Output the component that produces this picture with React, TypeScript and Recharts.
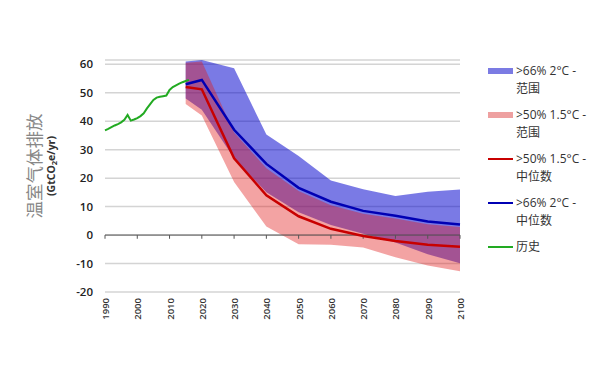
import * as React from "react";
import {
  ComposedChart,
  XAxis,
  YAxis,
  CartesianGrid,
  Area,
  Line,
  ReferenceLine,
} from "recharts";

const histYears = [
  1990, 1991, 1992, 1993, 1994, 1995, 1996, 1997, 1998, 1999, 2000, 2001, 2002,
  2003, 2004, 2005, 2006, 2007, 2008, 2009, 2010, 2011, 2012, 2013, 2014, 2015,
  2016,
];
const histValues = [
  36.8, 37.3, 37.9, 38.5, 39.0, 39.6, 40.5, 42.2, 40.2, 40.6, 41.1, 41.8, 42.8,
  44.5, 46.0, 47.5, 48.3, 48.6, 48.8, 49.0, 51.0, 52.0, 52.6, 53.2, 53.7, 54.1,
  54.5,
];

const projYears = [2015, 2020, 2030, 2040, 2050, 2060, 2070, 2080, 2090, 2100];
const deg2Median = [53, 54.5, 37, 25, 16.6, 11.7, 8.5, 6.8, 4.8, 3.7];
const deg2High = [61, 61.5, 58.6, 35.3, 27.8, 19.2, 16.1, 13.7, 15.2, 16.0];
const deg2Low = [48, 44, 27, 15, 8, 3.5, 0.5, -2.6, -6.7, -9.9];
const deg15Median = [52, 51.2, 27, 14, 6.6, 2.2, -0.3, -2.1, -3.4, -4.1];
const deg15High = [60.5, 61, 36, 23.5, 15.5, 10.5, 7.5, 5.8, 3.8, 2.8];
const deg15Low = [46, 42, 18.6, 3, -3.2, -3.4, -4.4, -7.8, -10.7, -12.7];

const xTicks = [
  1990, 2000, 2010, 2020, 2030, 2040, 2050, 2060, 2070, 2080, 2090, 2100,
];
const yTicks = [-20, -10, 0, 10, 20, 30, 40, 50, 60];

const legendItems = [
  { line1: ">66% 2°C -", line2: "范围", kind: "rect", color: "#7b7be3" },
  { line1: ">50% 1.5°C -", line2: "范围", kind: "rect", color: "#eea0a0" },
  { line1: ">50% 1.5°C -", line2: "中位数", kind: "line", color: "#c80000" },
  { line1: ">66% 2°C -", line2: "中位数", kind: "line", color: "#0000b4" },
  { line1: "历史", line2: "", kind: "line", color: "#22aa22" },
];

const histData = histYears.map((year, i) => ({ year, value: histValues[i] }));
const projData = projYears.map((year, i) => ({
  year,
  deg2Median: deg2Median[i],
  deg2Range: [deg2Low[i], deg2High[i]],
  deg15Median: deg15Median[i],
  deg15Range: [deg15Low[i], deg15High[i]],
}));

const FONT = "'Open Sans', 'Noto Sans CJK SC', sans-serif";

const XTick = (props: any) => {
  const { x, y, payload } = props;
  const tx = x + 4;
  const ty = y + 6;
  return (
    <text
      x={tx}
      y={ty}
      transform={`rotate(-90 ${tx} ${ty})`}
      textAnchor="end"
      fontSize={9.5}
      fontWeight={600}
      fill="#333"
      fontFamily={FONT}
    >
      {payload.value}
    </text>
  );
};

const YLabel = () => (
  <g>
    <text
      x={41}
      y={166}
      transform="rotate(-90 41 166)"
      textAnchor="middle"
      fontSize={17.5}
      fill="#888"
      fontFamily={FONT}
    >
      温室气体排放
    </text>
    <text
      x={55}
      y={166}
      transform="rotate(-90 55 166)"
      textAnchor="middle"
      fontSize={10.5}
      fontWeight="bold"
      fill="#333"
      fontFamily={FONT}
    >
      (GtCO
      <tspan fontSize={7.5} dy={2}>
        2
      </tspan>
      <tspan dy={-2}>e/yr)</tspan>
    </text>
  </g>
);

const ChartLegend = () => (
  <div
    style={{
      position: "absolute",
      left: 488,
      top: 62,
      width: 112,
      fontFamily: FONT,
      fontSize: 12,
      color: "#333",
      lineHeight: "18px",
    }}
  >
    {legendItems.map((item, i) => (
      <div key={i} style={{ display: "flex", marginBottom: 8 }}>
        <div
          style={{
            width: 25,
            height: 18,
            position: "relative",
            flexShrink: 0,
            marginRight: 3,
          }}
        >
          <div
            style={{
              position: "absolute",
              left: 0,
              width: 25,
              top: item.kind === "rect" ? 6 : 8,
              height: item.kind === "rect" ? 6 : 2,
              background: item.color,
            }}
          />
        </div>
        <div>
          <div>{item.line1}</div>
          {item.line2 && <div>{item.line2}</div>}
        </div>
      </div>
    ))}
  </div>
);

export default function App() {
  return (
    <div
      style={{
        position: "absolute",
        left: 0,
        top: 0,
        width: 600,
        height: 373,
        background: "#fff",
      }}
    >
      <ComposedChart
        width={600}
        height={373}
        margin={{ top: 60, right: 140, bottom: 41, left: 0 }}
      >
        <CartesianGrid vertical={false} stroke="#d4d4d4" strokeWidth={1.5} />
        <XAxis
          dataKey="year"
          type="number"
          domain={[1990, 2100]}
          ticks={xTicks}
          interval={0}
          axisLine={false}
          tickLine={false}
          tickSize={0}
          tickMargin={0}
          height={40}
          tick={<XTick />}
          allowDuplicatedCategory={false}
        />
        <YAxis
          type="number"
          domain={[-20, 60]}
          ticks={yTicks}
          interval={0}
          axisLine={false}
          tickLine={false}
          tickSize={0}
          tickMargin={12}
          width={105}
          tick={{ fontSize: 11.5, fill: "#222", fontWeight: 600, fontFamily: FONT }}
          label={<YLabel />}
        />
        <Area
          data={projData}
          dataKey="deg2Range"
          type="linear"
          fill="#0000cd"
          fillOpacity={0.52}
          stroke="none"
          isAnimationActive={false}
        />
        <Area
          data={projData}
          dataKey="deg15Range"
          type="linear"
          fill="#e01818"
          fillOpacity={0.4}
          stroke="none"
          isAnimationActive={false}
        />
        <ReferenceLine y={0} stroke="#555" strokeWidth={1} />
        {xTicks.map((t) => (
          <ReferenceLine
            key={t}
            segment={[
              { x: t, y: 0 },
              { x: t, y: -1.3 },
            ]}
            stroke="#555"
            strokeWidth={1}
          />
        ))}
        <Line
          data={projData}
          dataKey="deg15Median"
          type="linear"
          stroke="#c80000"
          strokeWidth={2.5}
          dot={false}
          isAnimationActive={false}
        />
        <Line
          data={projData}
          dataKey="deg2Median"
          type="linear"
          stroke="#0000b4"
          strokeWidth={2.5}
          dot={false}
          isAnimationActive={false}
        />
        <Line
          data={histData}
          dataKey="value"
          type="linear"
          stroke="#22aa22"
          strokeWidth={2}
          dot={false}
          isAnimationActive={false}
        />
      </ComposedChart>
      <ChartLegend />
    </div>
  );
}
